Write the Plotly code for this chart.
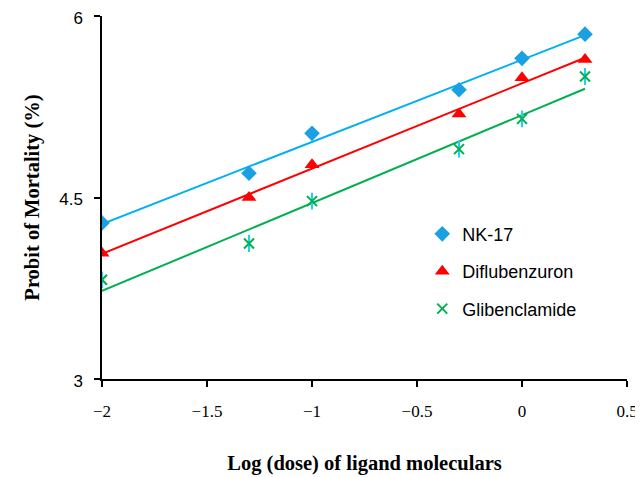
import numpy as np
import plotly.graph_objects as go

log_dose = [-2, -1.3, -1, -0.3, 0, 0.3]
nk17 = [4.29, 4.70, 5.03, 5.39, 5.65, 5.85]
diflubenzuron = [4.04, 4.50, 4.77, 5.19, 5.49, 5.64]
glibenclamide = [3.82, 4.12, 4.47, 4.90, 5.15, 5.50]

x_ticks = [-2, -1.5, -1, -0.5, 0, 0.5]
y_ticks = [3, 4.5, 6]
y_ticktext = ["3", "4.5", "6"]

series = [
    ("NK-17", nk17, "#00B0F0", "#1BA1E2", "diamond", 12),
    ("Diflubenzuron", diflubenzuron, "#FF0000", "#FF0000", "triangle-up", 13),
    ("Glibenclamide", glibenclamide, "#00B050", "#00B050", "x-thin-open", 10),
]

fig = go.Figure()
xs = np.array(log_dose)
for name, ys, lcol, mcol, sym, size in series:
    slope, icpt = np.polyfit(xs, np.array(ys), 1)
    xl = np.array([min(log_dose), max(log_dose)])
    fig.add_trace(go.Scatter(x=xl, y=slope * xl + icpt, mode="lines",
                             line=dict(color=lcol, width=2), showlegend=False,
                             hoverinfo="skip"))
for name, ys, lcol, mcol, sym, size in series:
    if sym == "x-thin-open":
        fig.add_trace(go.Scatter(x=log_dose, y=ys, mode="markers", showlegend=False,
                                 marker=dict(symbol="line-ns-open", size=12,
                                             line=dict(color=mcol, width=2))))
        marker = dict(symbol=sym, size=size, color=mcol, line=dict(color=mcol, width=2))
    else:
        marker = dict(symbol=sym, size=size, color=mcol, line=dict(width=0))
    fig.add_trace(go.Scatter(x=log_dose, y=ys, mode="markers", name=name,
                             marker=marker, legendgroup=name))

# page body has an 8px default margin, so the figure is sized/offset accordingly
fig.update_layout(
    width=635, height=469,
    margin=dict(l=94, r=16, t=8, b=98),
    paper_bgcolor="white", plot_bgcolor="white",
    legend=dict(x=0.61, y=0.45, xanchor="left", yanchor="top",
                font=dict(family="Liberation Sans", size=18, color="black"),
                tracegroupgap=11, itemwidth=30, bgcolor="rgba(0,0,0,0)"),
    xaxis=dict(range=[-2, 0.5], tickvals=x_ticks, ticks="outside", ticklen=6,
               tickwidth=1.5, tickcolor="black", showline=True, linecolor="black",
               linewidth=1.5, showgrid=False, zeroline=False, automargin=False,
               ticklabelstandoff=10, ticklabeloverflow="allow",
               tickfont=dict(family="Liberation Serif", size=17, color="black"),
               title=dict(text="<b>Log (dose) of ligand moleculars</b>", standoff=35,
                          font=dict(family="Liberation Serif", size=20.5, color="black"))),
    yaxis=dict(range=[3, 6], tickvals=y_ticks, ticktext=y_ticktext, ticks="outside",
               ticklen=6, tickwidth=1.5, tickcolor="black", showline=True,
               linecolor="black", linewidth=1.5, showgrid=False, zeroline=False,
               automargin=False, ticklabelstandoff=8, ticklabeloverflow="allow",
               ticklabelshift=2,
               tickfont=dict(family="Liberation Sans", size=17, color="black"),
               title=dict(text="<b>Probit of Mortality (%)</b>", standoff=14,
                          font=dict(family="Liberation Serif", size=20.5, color="black"))),
)

fig.write_html("out.html")
